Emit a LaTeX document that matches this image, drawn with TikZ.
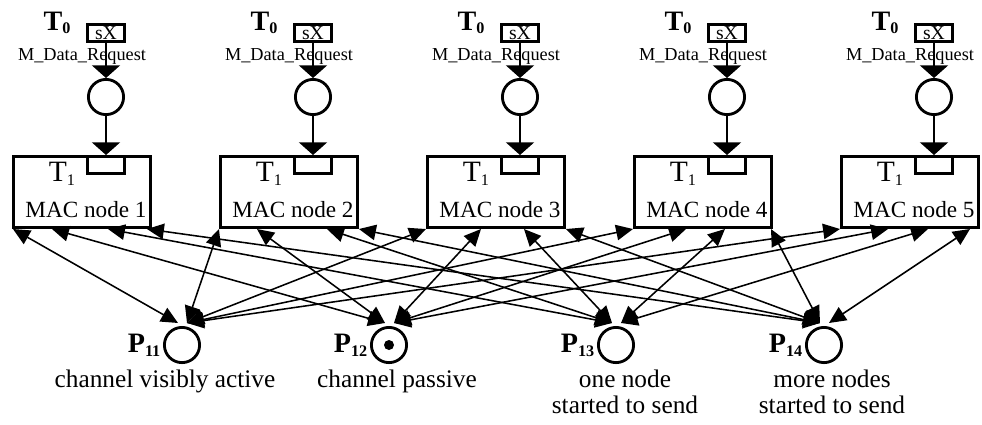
\documentclass[tikz,border=0pt]{standalone}
\usepackage{fontspec}
\setmainfont{Liberation Serif}
\usetikzlibrary{positioning, calc, arrows.meta}
\newcommand{\lowsub}[1]{\raisebox{-0.3ex}{\fontsize{11.5}{11.5}\selectfont #1}}
\tikzset{macbox/.style = {draw, line width=2pt, minimum width=3.43cm, minimum height=1.78cm, inner sep=0pt},
  portbox/.style = {draw, line width=2pt, minimum width=0.93cm, minimum height=0.43cm, inner sep=0pt},
  sxbox/.style = {portbox, font=\fontsize{14}{14}\selectfont},
  place/.style = {circle, draw, line width=2pt, minimum size=0.88cm, inner sep=0pt},
  token/.style = {circle, fill, minimum size=0.25cm, inner sep=0pt},
  tin/.style = {inner sep=0pt, anchor=base, font=\fontsize{21}{22}\selectfont},
  tout/.style = {inner sep=0pt, anchor=base, font=\fontsize{20}{20}\selectfont\bfseries},
  mactext/.style = {inner sep=0pt, anchor=base, font=\fontsize{16.5}{18}\selectfont},
  reqtext/.style = {inner sep=0pt, anchor=base, font=\fontsize{13}{14}\selectfont},
  plabel/.style = {inner sep=0pt, font=\fontsize{20}{20}\selectfont\bfseries},
  desc/.style = {inner sep=0pt, anchor=north, align=center, font=\fontsize{18}{18.5}\selectfont},
  feed/.style = {-{Triangle[length=9pt,width=20pt]}, line width=1pt},
  arc/.style = {{Triangle[length=12pt,width=11pt]}-{Triangle[length=12pt,width=11pt]}, line width=1.1pt}}
\begin{document}
\begin{tikzpicture}[x=0.025cm, y=-0.025cm]
    \useasboundingbox (0,0) rectangle (982,424);
    % MAC nodes with their request inputs
    \foreach \i in {1,...,5} {
        \pgfmathsetmacro{\L}{12+207*(\i-1)}
        \node [macbox] (m\i) at (\L+70,192) {};
        \node [portbox] (r\i) at (\L+94,165) {};
        \node [tin] (t1\i) at (\L+50,181) {T\lowsub{1}};
        \node [mactext] (n\i) at (\L+74,217) {MAC node \i};
        \node [place] (c\i) at (\L+94,97) {};
        \node [sxbox] (s\i) at (\L+94,33) {sX};
        \node [tout] (t0\i) at (\L+45,30) {T\lowsub{0}};
        \node [reqtext] (q\i) at (\L+70,60) {M\_Data\_Request};
        \draw [feed] (s\i) -- (c\i);
        \draw [feed] (c\i) -- (r\i);
    }
    % channel places
    \node [place] (P11) at (182,345) {};
    \node [place] (P12) at (389,345) {};
    \node [place] (P13) at (616,345) {};
    \node [place] (P14) at (824,345) {};
    \node [token] (tok) at (P12) {};
    \node [plabel, left=0.06cm of P11] (l11) {P\lowsub{11}};
    \node [plabel, left=0.06cm of P12] (l12) {P\lowsub{12}};
    \node [plabel, left=0.06cm of P13] (l13) {P\lowsub{13}};
    \node [plabel, left=0.06cm of P14] (l14) {P\lowsub{14}};
    \node [desc] (d11) at (165,370) {channel visibly active};
    \node [desc] (d12) at (397,370) {channel passive};
    \node [desc] (d13) at (625,370) {one node\\started to send};
    \node [desc] (d14) at (832,370) {more nodes\\started to send};
    \foreach \k in {1,...,4} {
        \coordinate (P1\k-l) at ($(P1\k.north)+(-4,-3)$);
        \coordinate (P1\k-r) at ($(P1\k.north)+(5,-3)$);
    }
    % attachment points under each MAC node
    \foreach \i/\oa/\ob/\oc/\od in {1/1/40/96/135, 2/0/38/108/140, 3/0/55/98/140, 4/0/53/92/138, 5/0/48/88/130} {
        \coordinate (a\i-1) at ($(m\i.south west)+(\oa,0)$);
        \coordinate (a\i-2) at ($(m\i.south west)+(\ob,0)$);
        \coordinate (a\i-3) at ($(m\i.south west)+(\oc,0)$);
        \coordinate (a\i-4) at ($(m\i.south west)+(\od,0)$);
    }
    \foreach \i in {1,...,5}
        \foreach \k in {1,...,4} {
            \ifnum\k<\i \def\side{r}\else\def\side{l}\fi
            \draw [arc] (a\i-\k) -- (P1\k-\side);
        }
\end{tikzpicture}
\end{document}
